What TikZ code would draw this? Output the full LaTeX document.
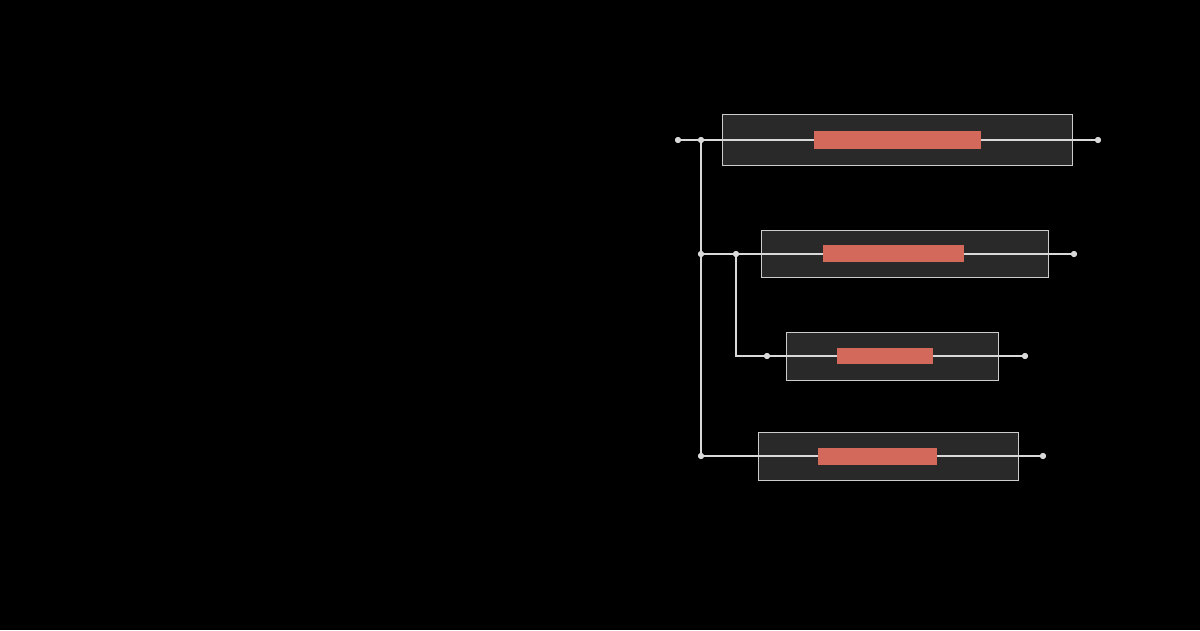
\documentclass[tikz,border=0pt]{standalone}
\begin{document}
\begin{tikzpicture}[x=1pt,y=-1pt,
  box/.style={draw=white!80!black,fill=white!16!black,line width=1pt},
  bar/.style={fill=red!55!orange!80!white!80!black,draw=none},
  wire/.style={draw=white!85!black,line width=1.2pt},
  dot/.style={circle,fill=white!85!black,inner sep=0pt,minimum size=6pt}]
\fill[black] (0,0) rectangle (1200,630);
\useasboundingbox (0,0) rectangle (1200,630);
\definecolor{barc}{HTML}{D2695A}
% boxes
\draw[box] (722,114) rectangle (1072,165);
\draw[box] (761,230) rectangle (1048,277);
\draw[box] (786,332) rectangle (998,380);
\draw[box] (758,432) rectangle (1018,480);
% dots
\node[dot] (a0) at (678,140) {}; \node[dot] (a1) at (701,140) {}; \node[dot] (a2) at (1098,140) {};
\node[dot] (b0) at (701,254) {}; \node[dot] (b1) at (736,254) {}; \node[dot] (b2) at (1074,254) {};
\node[dot] (c0) at (767,356) {}; \node[dot] (c2) at (1025,356) {};
\coordinate (c00) at (736,356);
\node[dot] (d0) at (701,456) {}; \node[dot] (d2) at (1043,456) {};
% wires
\draw[wire] (a0.center) -- (a2.center);
\draw[wire] (b0.center) -- (b2.center);
\draw[wire] (b1.center) -- (c00) -- (c2.center);
\draw[wire] (d0.center) -- (d2.center);
\draw[wire] (a1.center) -- (d0.center);
% bars
\fill[barc] (814,131) rectangle (981,149);
\fill[barc] (823,245) rectangle (964,262);
\fill[barc] (837,348) rectangle (933,364);
\fill[barc] (818,448) rectangle (937,465);
% redraw dots on top
\foreach \p in {a0,a1,a2,b0,b1,b2,c0,c2,d0,d2} \fill[white!85!black] (\p) circle (3pt);
\end{tikzpicture}
\end{document}
